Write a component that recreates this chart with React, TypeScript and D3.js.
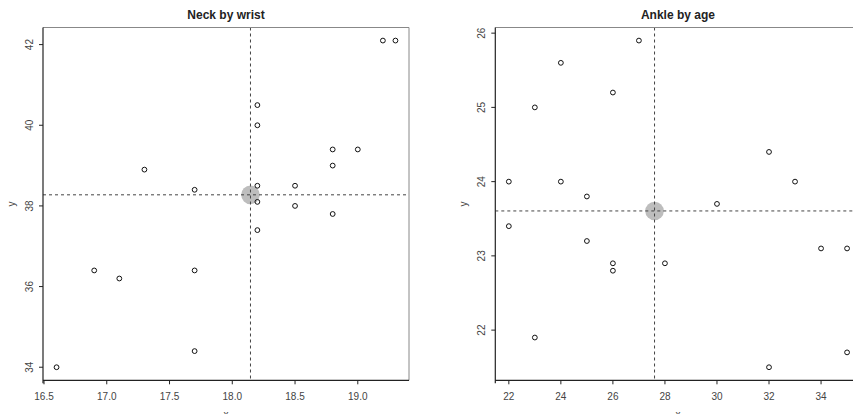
import React from "react";
import * as d3 from "d3";

const neckWristX = [16.6, 16.9, 17.1, 17.3, 17.7, 17.7, 17.7, 18.2, 18.2, 18.2, 18.2, 18.2, 18.5, 18.5, 18.8, 18.8, 18.8, 19.0, 19.2, 19.3];
const neckWristY = [34.0, 36.4, 36.2, 38.9, 38.4, 36.4, 34.4, 40.5, 40.0, 38.5, 38.1, 37.4, 38.5, 38.0, 39.4, 39.0, 37.8, 39.4, 42.1, 42.1];
const ankleAgeX = [22, 22, 23, 23, 24, 24, 25, 25, 26, 26, 26, 27, 28, 30, 32, 32, 33, 34, 35, 35];
const ankleAgeY = [24.0, 23.4, 25.0, 21.9, 25.6, 24.0, 23.8, 23.2, 25.2, 22.9, 22.8, 25.9, 22.9, 23.7, 24.4, 21.5, 24.0, 23.1, 23.1, 21.7];

const leftXTicks = [16.5, 17.0, 17.5, 18.0, 18.5, 19.0];
const leftYTicks = [34, 36, 38, 40, 42];
const rightXTicks = [22, 24, 26, 28, 30, 32, 34];
const rightYTicks = [22, 23, 24, 25, 26];

const titles = ["Neck by wrist", "Ankle by age"];

const FONT = "'Liberation Sans', Arial, Helvetica, sans-serif";

function padDomain(vals: number[]): [number, number] {
  const [a, b] = d3.extent(vals) as [number, number];
  const p = (b - a) * 0.04;
  return [a - p, b + p];
}

type PanelProps = {
  xs: number[];
  ys: number[];
  xTicks: number[];
  yTicks: number[];
  xFmt: (v: number) => string;
  title: string;
  left: number;
  right: number;
  top: number;
  bottom: number;
};

function Panel({ xs, ys, xTicks, yTicks, xFmt, title, left, right, top, bottom }: PanelProps) {
  const x = d3.scaleLinear().domain(padDomain(xs)).range([left, right]);
  const y = d3.scaleLinear().domain(padDomain(ys)).range([bottom, top]);
  const mx = d3.mean(xs) as number;
  const my = d3.mean(ys) as number;
  const cx = (left + right) / 2;
  const cy = (top + bottom) / 2;
  const clipId = "clip-" + title.replace(/\s/g, "");
  return (
    <g>
      <defs>
        <clipPath id={clipId}>
          <rect x={left} y={top} width={right - left} height={bottom - top} />
        </clipPath>
      </defs>
      <text x={cx} y={19} textAnchor="middle" fontFamily={FONT} fontWeight="bold" fontSize={12} fill="#222">
        {title}
      </text>
      <g clipPath={`url(#${clipId})`}>
        <circle cx={x(mx)} cy={y(my)} r={9.3} fill="#bdbdbd" />
        <line x1={x(mx)} x2={x(mx)} y1={top} y2={bottom} stroke="#444" strokeWidth={1} strokeDasharray="3,3" />
        <line x1={left} x2={right} y1={y(my)} y2={y(my)} stroke="#444" strokeWidth={1} strokeDasharray="3,3" />
        {xs.map((v, i) => (
          <circle key={i} cx={x(v)} cy={y(ys[i])} r={2.4} fill="none" stroke="#111" strokeWidth={1} />
        ))}
      </g>
      {/* box */}
      <line x1={left} x2={right} y1={top} y2={top} stroke="#888" strokeWidth={1} />
      <line x1={right} x2={right} y1={top} y2={bottom} stroke="#888" strokeWidth={1} />
      <line x1={left} x2={left} y1={top} y2={bottom + 3} stroke="#222" strokeWidth={1.2} />
      <line x1={left} x2={right} y1={bottom} y2={bottom} stroke="#222" strokeWidth={1.2} />
      {xTicks.map((t) => (
        <g key={"xt" + t}>
          <line x1={x(t)} x2={x(t)} y1={bottom} y2={bottom + 4} stroke="#222" />
          <text x={x(t)} y={400} textAnchor="middle" fontFamily={FONT} fontSize={10} fill="#444">
            {xFmt(t)}
          </text>
        </g>
      ))}
      {yTicks.map((t) => (
        <g key={"yt" + t}>
          <line x1={left - 4} x2={left} y1={y(t)} y2={y(t)} stroke="#222" />
          <text
            transform={`translate(${left - 10},${y(t)}) rotate(-90)`}
            textAnchor="middle"
            fontFamily={FONT}
            fontSize={10}
            fill="#444"
          >
            {String(t)}
          </text>
        </g>
      ))}
      <text x={cx} y={418} textAnchor="middle" fontFamily={FONT} fontSize={10} fill="#444">x</text>
      <text
        transform={`translate(${left - 28},${cy}) rotate(-90)`}
        textAnchor="middle"
        fontFamily={FONT}
        fontSize={10}
        fill="#444"
      >
        y
      </text>
    </g>
  );
}

export default function App() {
  const f1 = d3.format(".1f");
  const f0 = d3.format("d");
  return (
    <svg width={853} height={414} style={{ position: "absolute", left: 0, top: 0, background: "#fff" }}>
      <rect width={853} height={414} fill="#fff" />
      <Panel
        xs={neckWristX}
        ys={neckWristY}
        xTicks={leftXTicks}
        yTicks={leftYTicks}
        xFmt={f1}
        title={titles[0]}
        left={43}
        right={409}
        top={27.5}
        bottom={380.3}
      />
      <Panel
        xs={ankleAgeX}
        ys={ankleAgeY}
        xTicks={rightXTicks}
        yTicks={rightYTicks}
        xFmt={f0}
        title={titles[1]}
        left={495.3}
        right={860.6}
        top={27.5}
        bottom={380.3}
      />
    </svg>
  );
}
